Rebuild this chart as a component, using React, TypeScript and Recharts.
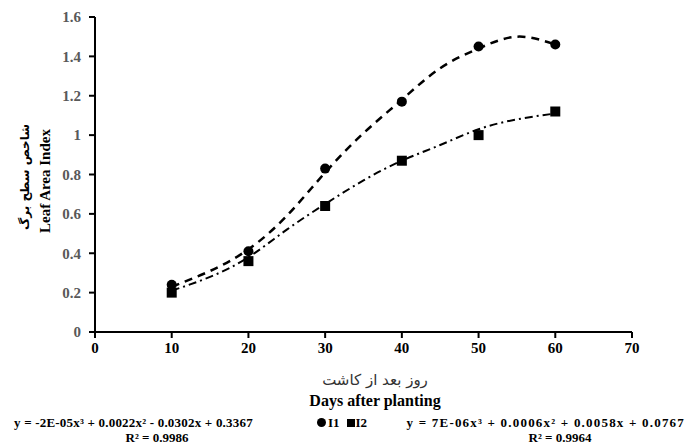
import React from 'react';
import { ComposedChart, Line, Scatter, XAxis, YAxis } from 'recharts';

// measured points
const days = [10, 20, 30, 40, 50, 60];
const i1Values = [0.24, 0.41, 0.83, 1.17, 1.45, 1.46];
const i2Values = [0.2, 0.36, 0.64, 0.87, 1.0, 1.12];

// trend curves
const trendDays = [10, 15, 20, 25, 30, 35, 40, 45, 50, 55, 60];
const i1Trend = [0.23, 0.31, 0.42, 0.59, 0.81, 1.01, 1.18, 1.34, 1.44, 1.5, 1.46];
const i2Trend = [0.21, 0.28, 0.38, 0.52, 0.65, 0.77, 0.87, 0.95, 1.03, 1.08, 1.11];

const xTicks = [0, 10, 20, 30, 40, 50, 60, 70];
const yTicks = [0, 0.2, 0.4, 0.6, 0.8, 1, 1.2, 1.4, 1.6];

const i1Points = days.map((x, i) => ({ x, y: i1Values[i] }));
const i2Points = days.map((x, i) => ({ x, y: i2Values[i] }));
const i1Line = trendDays.map((x, i) => ({ x, y: i1Trend[i] }));
const i2Line = trendDays.map((x, i) => ({ x, y: i2Trend[i] }));

const serif = '"Liberation Serif", "Times New Roman", serif';

const abs = (left: number, top: number, extra: React.CSSProperties = {}): React.CSSProperties => ({
  position: 'absolute',
  left,
  top,
  transform: 'translate(-50%, -50%)',
  whiteSpace: 'nowrap',
  fontFamily: serif,
  color: '#000',
  lineHeight: 1,
  ...extra,
});

const eqStyle: React.CSSProperties = {
  position: 'absolute',
  top: 416,
  fontFamily: serif,
  fontSize: 13,
  fontWeight: 'bold',
  whiteSpace: 'nowrap',
  lineHeight: 1,
};

const Circle = (p: any) => <circle cx={p.cx} cy={p.cy} r={5} fill="#000" />;
const Square = (p: any) => <rect x={p.cx - 5} y={p.cy - 5} width={10} height={10} fill="#000" />;

export default function App() {
  return (
    <div style={{ position: 'absolute', left: 0, top: 0, width: 688, height: 444, background: '#fff', overflow: 'hidden' }}>
      <ComposedChart
        width={688}
        height={444}
        margin={{ top: 17, right: 56, bottom: 82, left: 55 }}
      >
        <XAxis
          type="number"
          dataKey="x"
          domain={[0, 70]}
          ticks={xTicks}
          height={30}
          stroke="#000"
          strokeWidth={2}
          tickSize={6}
          tickMargin={4}
          tick={{ fill: '#000', fontSize: 15, fontWeight: 'bold', fontFamily: serif }}
          allowDataOverflow
        />
        <YAxis
          type="number"
          dataKey="y"
          domain={[0, 1.6]}
          ticks={yTicks}
          width={40}
          stroke="#000"
          strokeWidth={2}
          tickSize={6}
          tickMargin={8}
          tick={{ fill: '#595959', fontSize: 15, fontWeight: 'bold', fontFamily: serif }}
        />
        <Line
          data={i1Line}
          dataKey="y"
          type="natural"
          stroke="#000"
          strokeWidth={2.5}
          strokeDasharray="8 6"
          dot={false}
          isAnimationActive={false}
        />
        <Line
          data={i2Line}
          dataKey="y"
          type="natural"
          stroke="#000"
          strokeWidth={2}
          strokeDasharray="8 4 2 4"
          dot={false}
          isAnimationActive={false}
        />
        <Scatter data={i1Points} dataKey="y" shape={Circle} isAnimationActive={false} />
        <Scatter data={i2Points} dataKey="y" shape={Square} isAnimationActive={false} />
      </ComposedChart>

      <div style={abs(25, 177, { transform: 'translate(-50%, -50%) rotate(-90deg)', fontSize: 12, fontWeight: 'bold', fontFamily: '"DejaVu Sans", sans-serif' })}>
        شاخص سطح برگ
      </div>
      <div style={abs(45, 181, { transform: 'translate(-50%, -50%) rotate(-90deg)', fontSize: 15, fontWeight: 'bold' })}>
        Leaf Area Index
      </div>

      <div style={abs(375, 380, { fontSize: 15, fontFamily: '"DejaVu Sans", sans-serif', color: '#333' })}>
        روز بعد از کاشت
      </div>
      <div style={abs(375, 401, { fontSize: 16, fontWeight: 'bold' })}>Days after planting</div>

      <div style={{ ...eqStyle, left: 14, letterSpacing: 0.2 }}>
        y = -2E-05x³ + 0.0022x² - 0.0302x + 0.3367
      </div>
      <div style={abs(157, 437, { fontSize: 13, fontWeight: 'bold' })}>R² = 0.9986</div>

      <div style={{ ...eqStyle, left: 317, display: 'flex', alignItems: 'center' }}>
        <span style={{ display: 'inline-block', width: 9, height: 9, borderRadius: '50%', background: '#000', marginRight: 2 }} />
        <span>I1</span>
        <span style={{ display: 'inline-block', width: 8, height: 8, background: '#000', marginLeft: 7, marginRight: 1 }} />
        <span>I2</span>
      </div>

      <div style={{ ...eqStyle, right: 3, letterSpacing: 1.2 }}>
        y = 7E-06x³ + 0.0006x² + 0.0058x + 0.0767
      </div>
      <div style={abs(560, 437, { fontSize: 13, fontWeight: 'bold' })}>R² = 0.9964</div>
    </div>
  );
}
